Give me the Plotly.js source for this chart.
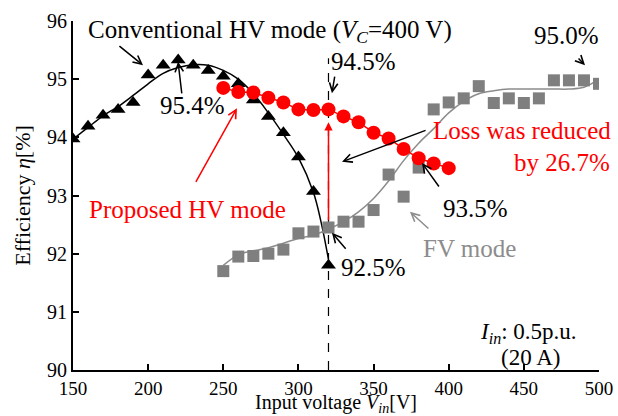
<!DOCTYPE html>
<html>
<head>
<meta charset="utf-8">
<script src="https://cdn.plot.ly/plotly-3.0.1.min.js"></script>
<style>html,body{margin:0;padding:0;background:#fff;}#chart{width:618px;height:416px;}</style>
</head>
<body>
<div id="chart"></div>
<script>
// Conventional HV mode (V_C = 400 V) — measured points
const convX = [150,160,170,180,190,200,210,220,230,240,250,260,270,280,290,300,310,320];
const convY = [93.97,94.19,94.38,94.48,94.6,95.07,95.24,95.33,95.24,95.15,95.05,94.92,94.64,94.36,94.08,93.66,93.07,91.8];
// Conventional HV mode — trend curve
const convFitX = [150,160,170,180,190,200,210,220,230,240,250,260,270,280,290,300,310,315,320];
const convFitY = [93.97,94.17,94.37,94.53,94.72,94.92,95.1,95.2,95.25,95.24,95.15,95.0,94.75,94.42,94.05,93.65,93.05,92.55,91.9];
// Proposed HV mode
const propX = [250,260,270,280,290,300,310,320,330,340,350,360,370,380,390,400];
const propY = [94.85,94.78,94.77,94.68,94.6,94.48,94.47,94.48,94.36,94.26,94.08,93.98,93.8,93.64,93.55,93.47];
// FV mode — measured points
const fvX = [250,260,270,280,290,300,310,320,330,340,350,360,370,380,390,400,410,420,430,440,450,460,470,480,490,500];
const fvY = [91.7,91.95,91.96,92.0,92.07,92.35,92.38,92.45,92.55,92.55,92.75,93.36,92.98,93.48,94.48,94.6,94.67,94.88,94.59,94.67,94.59,94.67,94.98,94.98,94.98,94.92];
// FV mode — trend curve
const fvFitX = [250,260,270,280,290,300,310,320,330,340,350,360,370,380,390,400,410,420,430,440,450,460,470,480,490,500];
const fvFitY = [91.8,91.98,92.05,92.1,92.18,92.26,92.32,92.42,92.55,92.72,92.95,93.25,93.6,93.9,94.15,94.42,94.62,94.75,94.8,94.83,94.83,94.83,94.83,94.83,94.86,95.0];
// Tick values
const xTicks = [150,200,250,300,350,400,450,500];
const yTicks = [90,91,92,93,94,95,96];

const FONT = 'Liberation Serif, Times New Roman, serif';
const GREY_M = '#7f7f7f';
const GREY_L = '#8c8c8c';
const ANN = 25;

const traces = [
  {x: convFitX, y: convFitY, mode: 'lines', line: {color: '#000', width: 1.5, shape: 'spline'}, hoverinfo: 'skip', showlegend: false},
  {x: fvFitX, y: fvFitY, mode: 'lines', line: {color: GREY_L, width: 1.5, shape: 'spline'}, hoverinfo: 'skip', showlegend: false},
  {x: fvX, y: fvY, mode: 'markers', marker: {symbol: 'square', size: 12, color: GREY_M}, showlegend: false},
  {x: convX, y: convY, mode: 'markers', marker: {symbol: 'triangle-up', size: 13, color: '#000'}, showlegend: false},
  {x: propX, y: propY, mode: 'lines+markers', line: {color: '#ff0000', width: 1.5}, marker: {symbol: 'circle', size: 14, color: '#ff0000'}, showlegend: false}
];

function px2x(p){ return (p-73)/526; }
function py2y(p){ return (370-p)/349; }

function txt(text, px, py, color, xanchor, size){
  return {xref: 'paper', yref: 'paper', x: px2x(px), y: py2y(py), text: text, showarrow: false,
    xanchor: xanchor || 'center', yanchor: 'middle', font: {family: FONT, size: size || ANN, color: color || '#000'}};
}
function arr(tx, ty, hx, hy, color, head){
  return {xref: 'x', yref: 'y', axref: 'x', ayref: 'y', x: hx, y: hy, ax: tx, ay: ty, text: '',
    showarrow: true, arrowhead: head || 5, arrowsize: 1.1, arrowwidth: 1.5, arrowcolor: color || '#000', standoff: 0, startstandoff: 0};
}

const annotations = [
  txt('Conventional HV mode (<i>V<sub>C</sub></i>=400 V)', 86, 31, '#000', 'left'),
  txt('95.4%', 192, 106),
  txt('94.5%', 363, 62),
  txt('95.0%', 566, 35),
  txt('Loss was reduced', 613, 130, '#ff0000', 'right'),
  txt('by 26.7%', 612, 162, '#ff0000', 'right'),
  txt('93.5%', 475, 208),
  txt('FV mode', 469, 248, GREY_L),
  txt('92.5%', 373, 267),
  txt('Proposed HV mode', 187, 209, '#ff0000'),
  txt('<i>I<sub>in</sub></i>: 0.5p.u.', 528, 333, '#000', 'center', 23),
  txt('(20 A)', 530, 357, '#000', 'center', 23),
  arr(179.9, 95.59, 196.6, 95.24),
  arr(222.5, 94.73, 219.9, 95.30),
  arr(324.3, 95.07, 322.3, 94.76),
  arr(485.4, 95.38, 490.7, 95.24),
  arr(385.6, 94.13, 329.0, 93.58),
  arr(394.2, 93.13, 382.2, 93.56),
  arr(387.5, 92.41, 374.2, 92.72, GREY_L),
  arr(332.3, 92.06, 322.3, 92.36),
  arr(231.2, 93.21, 259.1, 94.50, '#ff0000'),
  arr(320, 92.55, 320, 94.26, '#ff0000', 2)
];

const shapes = [
  {type: 'line', xref: 'x', yref: 'y', x0: 320, x1: 320, y0: 90, y1: 95.36, line: {color: '#000', width: 1.2, dash: 'dash'}, layer: 'below'}
];

const layout = {
  width: 618, height: 416,
  margin: {l: 73, r: 19, t: 21, b: 46},
  paper_bgcolor: '#fff', plot_bgcolor: '#fff',
  font: {family: FONT, size: 20, color: '#000'},
  showlegend: false,
  xaxis: {
    range: [150, 500], tickvals: xTicks, ticktext: xTicks.map(String),
    showgrid: false, zeroline: false, showline: true, linecolor: '#000', linewidth: 2,
    ticks: 'inside', ticklen: 6, tickwidth: 2, tickcolor: '#000',
    tickfont: {family: FONT, size: 19, color: '#000'},
    title: {text: 'Input voltage <i>V<sub>in</sub></i>[V]', font: {family: FONT, size: 20, color: '#000'}, standoff: 3}
  },
  yaxis: {
    range: [90, 96], tickvals: yTicks, ticktext: yTicks.map(String),
    showgrid: false, zeroline: false, showline: true, linecolor: '#000', linewidth: 2,
    ticks: 'inside', ticklen: 6, tickwidth: 2, tickcolor: '#000',
    tickfont: {family: FONT, size: 20, color: '#000'},
    title: {text: 'Efficiency <i>η</i>[%]', font: {family: FONT, size: 22, color: '#000'}, standoff: 10}
  },
  annotations: annotations,
  shapes: shapes
};

Plotly.newPlot('chart', traces, layout, {displayModeBar: false, staticPlot: true});
</script>
</body>
</html>
